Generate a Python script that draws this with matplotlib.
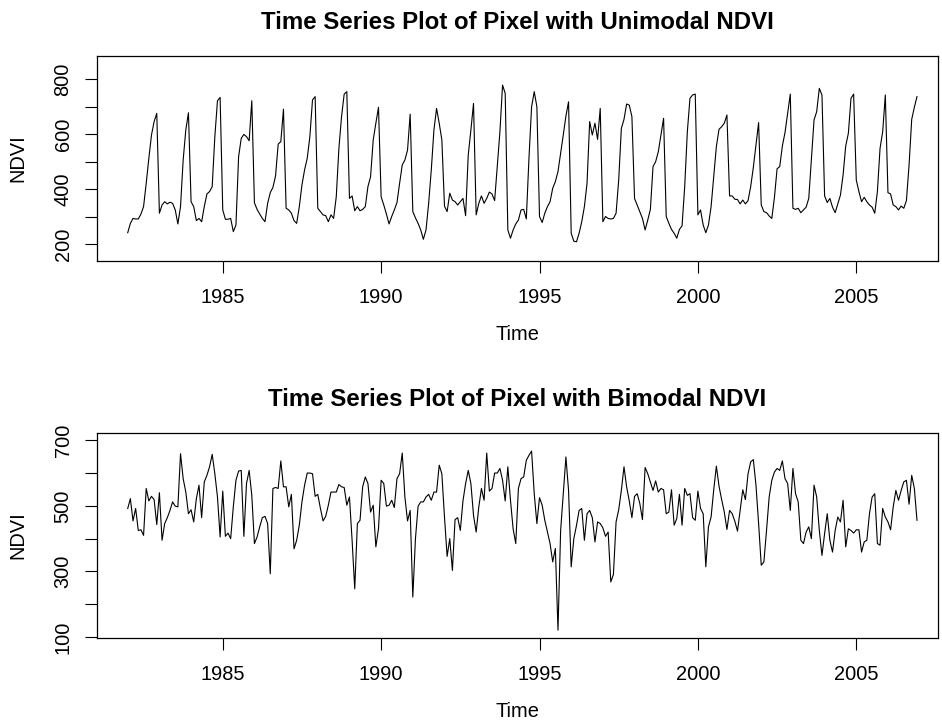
import numpy as np
import matplotlib
matplotlib.use("Agg")
import matplotlib.pyplot as plt

plt.rcParams['font.family'] = ['Liberation Sans', 'DejaVu Sans']

START_YEAR = 1982
FREQ = 12

unimodal = [
    241, 275, 293, 291, 291, 309, 336, 421, 512, 597, 646, 676,
    312, 342, 354, 346, 352, 348, 324, 273, 336, 506, 615, 678,
    354, 336, 285, 293, 281, 336, 382, 391, 409, 591, 722, 734,
    324, 290, 290, 293, 245, 269, 518, 585, 599, 591, 576, 722,
    350, 326, 309, 293, 281, 348, 387, 406, 448, 564, 573, 691,
    330, 324, 312, 285, 275, 336, 415, 470, 512, 591, 725, 737,
    330, 318, 306, 303, 281, 306, 293, 372, 548, 664, 746, 755,
    366, 375, 321, 336, 321, 326, 336, 409, 445, 579, 640, 698,
    372, 342, 309, 273, 300, 324, 351, 421, 488, 506, 542, 673,
    318, 295, 275, 251, 217, 251, 348, 470, 615, 694, 640, 579,
    338, 318, 385, 360, 354, 342, 354, 366, 303, 524, 615, 712,
    306, 348, 375, 348, 366, 389, 382, 358, 482, 609, 779, 749,
    251, 221, 251, 273, 287, 324, 326, 291, 512, 700, 755, 700,
    300, 278, 312, 336, 354, 403, 427, 464, 530, 597, 666, 718,
    239, 210, 208, 239, 281, 336, 421, 646, 597, 640, 581, 694,
    281, 300, 293, 291, 293, 312, 433, 621, 654, 710, 706, 664,
    366, 342, 318, 293, 251, 287, 326, 482, 500, 536, 597, 658,
    300, 275, 253, 239, 221, 253, 266, 409, 609, 731, 743, 746,
    306, 324, 269, 241, 269, 336, 445, 555, 618, 627, 640, 670,
    375, 375, 363, 362, 346, 360, 346, 358, 409, 479, 561, 642,
    342, 318, 314, 302, 293, 370, 474, 482, 557, 606, 676, 746,
    330, 326, 330, 314, 324, 334, 366, 512, 652, 682, 767, 743,
    375, 351, 366, 334, 314, 346, 378, 451, 557, 603, 731, 746,
    433, 391, 354, 370, 354, 342, 334, 312, 391, 548, 609, 743,
    387, 382, 342, 336, 324, 338, 330, 358, 488, 654, 698, 737,
]

bimodal = [
    492, 522, 454, 492, 425, 427, 410, 553, 515, 529, 519, 443,
    540, 395, 446, 464, 486, 512, 499, 497, 659, 583, 542, 476,
    488, 451, 522, 563, 464, 573, 593, 619, 657, 598, 527, 405,
    545, 407, 417, 400, 497, 578, 606, 608, 407, 568, 608, 532,
    385, 405, 436, 464, 468, 446, 293, 553, 556, 553, 637, 558,
    558, 497, 535, 369, 395, 441, 512, 563, 600, 600, 598, 529,
    535, 492, 454, 468, 502, 542, 542, 542, 565, 558, 556, 502,
    527, 395, 247, 446, 456, 558, 588, 568, 481, 502, 375, 430,
    578, 568, 499, 502, 517, 495, 583, 598, 661, 527, 454, 486,
    222, 400, 499, 512, 512, 527, 535, 517, 542, 542, 624, 598,
    466, 346, 400, 303, 458, 464, 425, 515, 568, 608, 568, 471,
    420, 497, 553, 517, 661, 545, 553, 600, 600, 614, 578, 515,
    619, 517, 430, 385, 553, 583, 588, 639, 654, 667, 537, 446,
    525, 502, 456, 420, 385, 329, 370, 121, 425, 537, 649, 547,
    314, 400, 440, 486, 492, 395, 476, 486, 464, 390, 451, 446,
    433, 407, 420, 268, 291, 451, 488, 547, 619, 558, 515, 464,
    529, 537, 507, 458, 617, 598, 573, 547, 576, 542, 553, 549,
    476, 481, 549, 441, 461, 535, 441, 553, 532, 537, 464, 456,
    545, 492, 476, 314, 436, 466, 549, 621, 560, 519, 481, 428,
    486, 476, 453, 423, 486, 549, 519, 598, 634, 641, 563, 446,
    319, 329, 425, 527, 578, 603, 614, 608, 637, 583, 568, 486,
    614, 537, 512, 395, 385, 420, 436, 400, 563, 527, 425, 349,
    415, 476, 395, 359, 425, 466, 451, 517, 375, 430, 425, 417,
    427, 427, 359, 390, 395, 476, 527, 537, 385, 380, 492, 466,
    451, 427, 497, 547, 517, 547, 573, 578, 505, 593, 553, 456,
]

x_ticks = [1985, 1990, 1995, 2000, 2005]
titles = ["Time Series Plot of Pixel with Unimodal NDVI",
          "Time Series Plot of Pixel with Bimodal NDVI"]
top_yticks = [200, 300, 400, 500, 600, 700, 800]
top_ylabels = ["200", "", "400", "", "600", "", "800"]
bot_yticks = [100, 200, 300, 400, 500, 600, 700]
bot_ylabels = ["100", "", "300", "", "500", "", "700"]

W, H = 942, 721
fig = plt.figure(figsize=(W / 100, H / 100), dpi=100)

def px_axes(left, top, right, bottom):
    return fig.add_axes([left / W, 1 - bottom / H, (right - left) / W, (bottom - top) / H])

ax1 = px_axes(97, 55.7, 938, 260.7)
ax2 = px_axes(97, 432.7, 938, 637.7)

def draw(ax, values, title, yticks, ylabels, ylim):
    t = START_YEAR + np.arange(len(values)) / FREQ
    ax.plot(t, values, color='black', lw=0.8)
    ax.set_xlim(1981.03, 2007.58)
    ax.set_ylim(*ylim)
    ax.set_xticks(x_ticks)
    ax.set_xticklabels([str(v) for v in x_ticks])
    ax.set_yticks(yticks)
    ax.set_yticklabels(ylabels, rotation=90, va='center')
    ax.tick_params(axis='both', direction='out', length=8.6, width=0.8,
                   labelsize=14.4, pad=9, color='black')
    ax.tick_params(axis='x', pad=11)
    for s in ax.spines.values():
        s.set_linewidth(0.9)
        s.set_color('black')
    ax.set_title(title, fontsize=17.3, fontweight='bold', pad=19)
    ax.set_xlabel("Time", fontsize=14.4)
    ax.set_ylabel("NDVI", fontsize=14.4)
    ax.xaxis.set_label_coords(0.5, -0.314)
    ax.yaxis.set_label_coords(-0.0832, 0.5)

draw(ax1, unimodal, titles[0], top_yticks, top_ylabels, (139, 886))
draw(ax2, bimodal, titles[1], bot_yticks, bot_ylabels, (98, 723))

fig.savefig("out.png", dpi=100, facecolor='white')
